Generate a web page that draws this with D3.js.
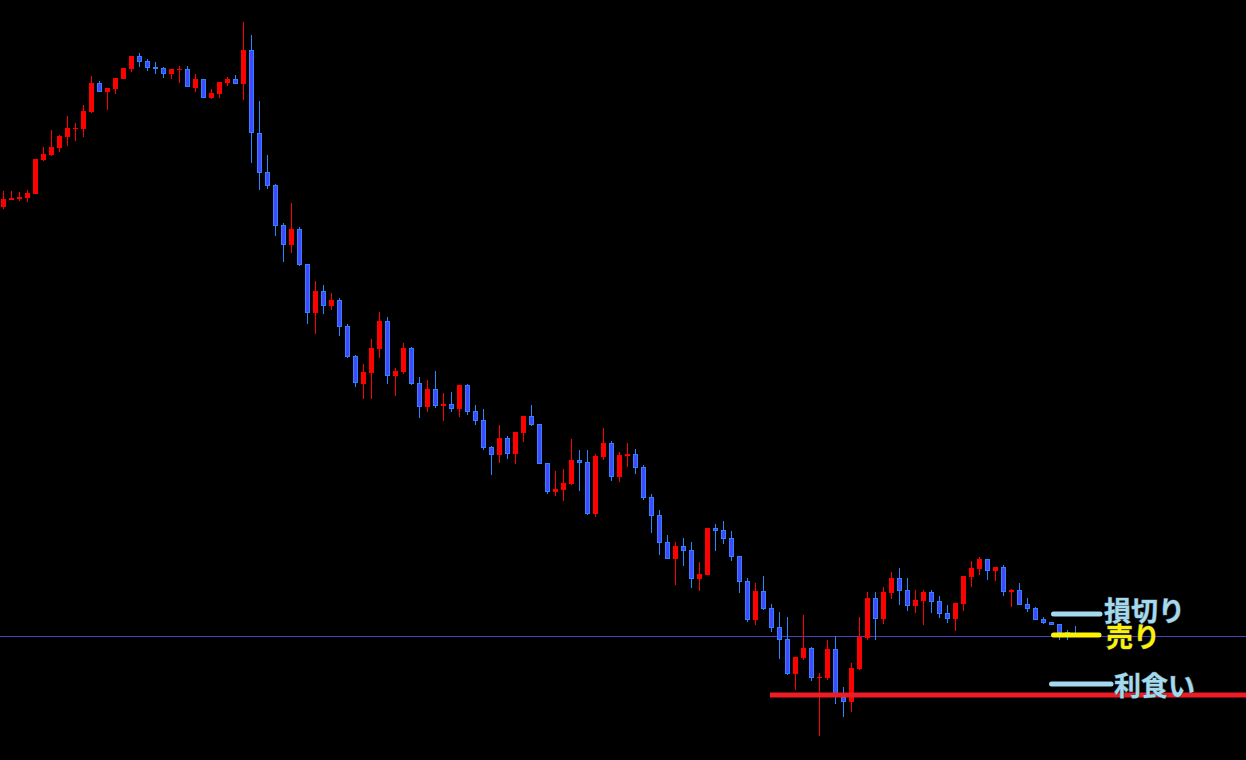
<!DOCTYPE html>
<html>
<head>
<meta charset="utf-8">
<script src="https://cdn.jsdelivr.net/npm/d3@7"></script>
<style>
  html, body { margin: 0; padding: 0; background: #000; overflow: hidden; }
  svg { display: block; }
</style>
</head>
<body>
<svg id="chart" width="1246" height="760"></svg>
<script>
// ---- data (price units) ----
const open = [793,800,801,802,806,840,845,852,863,871,
  871,888,917,908,911,921,931,944,939,933,
  932,926,930,931,912,921,902,906,917,921,
  916,950,867,828,815,775,755,771,736,687,
  709,694,700,674,644,616,627,651,679,624,
  628,652,617,593,611,594,596,591,615,589,
  580,553,545,562,546,567,584,576,537,508,
  510,516,540,538,486,543,557,523,544,546,
  533,503,485,458,441,454,450,421,425,472,
  470,462,444,419,380,409,392,373,361,326,
  342,352,322,322,351,303,298,331,362,402,
  381,407,422,410,394,399,408,399,387,381,
  396,423,431,441,429,433,408,410,396,392,
  381,378,376,368,366];
const high = [809,809,808,810,841,853,870,865,884,877,
  895,924,919,912,922,932,944,947,941,938,
  933,931,934,934,926,921,911,918,923,925,
  978,965,899,845,816,777,797,773,736,719,
  715,707,702,676,645,636,661,688,683,632,
  657,653,623,620,629,607,608,615,616,595,
  591,554,575,564,568,584,595,576,537,529,
  531,561,550,550,546,572,559,548,557,551,
  535,506,490,465,458,462,458,438,472,476,
  479,469,444,422,417,424,396,388,383,343,
  385,353,327,360,364,313,337,383,408,408,
  413,428,432,422,410,410,410,404,395,397,
  424,439,443,441,433,435,411,417,402,393,
  383,378,376,370,374];
const low = [791,800,799,798,806,839,844,848,854,859,
  863,887,908,890,906,921,928,933,929,926,
  922,921,917,913,908,902,901,902,914,916,
  900,837,810,811,764,738,747,734,676,666,
  686,690,664,642,613,601,601,642,616,604,
  626,615,582,588,592,579,588,583,585,575,
  550,525,537,541,536,558,574,536,506,504,
  499,515,509,485,483,540,519,518,533,526,
  500,467,445,441,415,434,412,409,425,449,
  456,439,407,378,375,390,368,341,325,310,
  340,319,264,320,296,283,288,330,360,360,
  376,401,395,389,387,375,387,382,377,369,
  389,413,425,420,419,404,393,395,388,380,
  376,375,360,360,364];
const close = [801,802,803,807,841,846,853,864,872,872,
  889,917,908,912,922,932,944,938,932,931,
  926,931,931,913,921,902,907,918,921,916,
  950,867,827,814,774,755,771,735,687,709,
  694,700,673,643,617,628,652,679,624,629,
  652,616,593,611,594,596,591,615,588,579,
  552,545,562,546,568,584,575,536,508,511,
  517,540,537,486,544,557,523,545,546,532,
  502,484,457,441,454,449,421,426,472,469,
  461,443,418,380,409,391,372,360,326,343,
  352,322,323,351,303,298,332,363,402,381,
  408,422,409,394,400,408,398,386,381,397,
  424,432,441,429,433,408,410,395,391,380,
  377,375,367,364,365];

// order levels
const levelLabels = ["損切り", "売り", "利食い"];
const levelValues = [386, 365, 316];
const supportValue = 305;        // red horizontal line
const supportStartIndex = 96;
const currentPrice = 364;        // thin price line

// ---- drawing ----
const W = 1246, H = 760;
const n = open.length;
const svg = d3.select("#chart");
svg.append("rect").attr("width", W).attr("height", H).attr("fill", "#000");

const x = d3.scaleLinear().domain([0, n - 1]).range([3.5, 3.5 + 8 * (n - 1)]);
const y = d3.scaleLinear().domain([240, 1000]).range([H, 0]);

const data = d3.range(n).map(i => ({i, o: open[i], h: high[i], l: low[i], c: close[i]}));
const isUp = d => d.c >= d.o;

const UP = "#ff0000";
const DN_FILL = "#4646ff";
const DN_EDGE = "#2a86ff";

// current price line
svg.append("line")
  .attr("x1", 0).attr("x2", W)
  .attr("y1", Math.round(y(currentPrice)) + 0.5).attr("y2", Math.round(y(currentPrice)) + 0.5)
  .attr("stroke", "#4a40b8").attr("stroke-width", 1);

const g = svg.append("g");
// wicks
g.selectAll("line.wick").data(data).join("line")
  .attr("class", "wick")
  .attr("x1", d => x(d.i)).attr("x2", d => x(d.i))
  .attr("y1", d => y(d.h)).attr("y2", d => y(d.l))
  .attr("stroke", d => isUp(d) ? UP : DN_EDGE)
  .attr("stroke-width", 1);

// bodies
g.selectAll("rect.body").data(data).join("rect")
  .attr("class", "body")
  .each(function(d) {
    const top = y(Math.max(d.o, d.c));
    const bot = y(Math.min(d.o, d.c));
    const hgt = Math.max(1, bot - top);
    const sel = d3.select(this);
    if (isUp(d)) {
      sel.attr("x", x(d.i) - 2.5).attr("width", 5)
        .attr("y", top).attr("height", hgt)
        .attr("fill", UP);
    } else {
      sel.attr("x", x(d.i) - 2).attr("width", 4)
        .attr("y", top + 0.5).attr("height", Math.max(0.5, hgt - 1))
        .attr("fill", DN_FILL).attr("stroke", DN_EDGE).attr("stroke-width", 1);
    }
  });

// red support line
svg.append("line")
  .attr("x1", x(supportStartIndex) - 1.5).attr("x2", W)
  .attr("y1", y(supportValue)).attr("y2", y(supportValue))
  .attr("stroke", "#ee1c25").attr("stroke-width", 5);

// order level markers with labels
const lvlColor = ["#a3daee", "#fff200", "#a3daee"];
const lineStart = [x(131) + 2, x(131) + 2, x(131)];
const lineEnd = [x(131) + 48.5, x(131) + 47.5, x(131) + 59.5];
const textX = [1104, 1106, 1114];
const textDy = [-5, 0, 0];

levelValues.forEach((v, k) => {
  const yy = y(v);
  svg.append("line")
    .attr("x1", lineStart[k]).attr("x2", lineEnd[k])
    .attr("y1", yy).attr("y2", yy)
    .attr("stroke", lvlColor[k]).attr("stroke-width", 5)
    .attr("stroke-linecap", "round");
  svg.append("text")
    .attr("x", textX[k]).attr("y", yy + textDy[k])
    .attr("dominant-baseline", "central")
    .attr("font-family", "'Noto Sans CJK JP', 'Noto Sans CJK SC', sans-serif")
    .attr("font-weight", "bold")
    .attr("font-size", 27)
    .attr("fill", lvlColor[k])
    .attr("stroke", "#4a5a60").attr("stroke-width", 1)
    .attr("paint-order", "stroke")
    .text(levelLabels[k]);
});
</script>
</body>
</html>
